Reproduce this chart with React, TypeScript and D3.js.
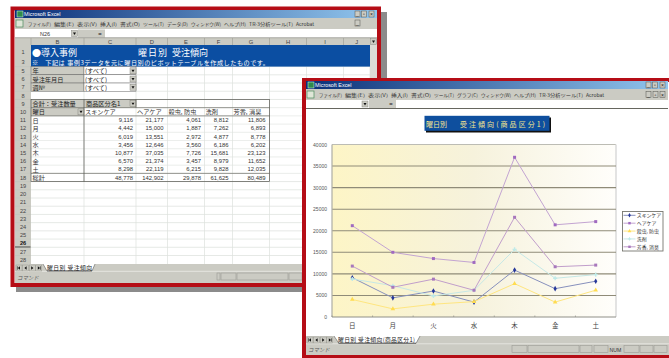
import React from "react";
import * as d3 from "d3";

// Pivot table contents
const weekdays = ["日", "月", "火", "水", "木", "金", "土"];
const seriesNames = ["スキンケア", "ヘアケア", "殺虫, 防虫", "洗剤", "芳香, 消臭"];
const skinCare = [9116, 4442, 6019, 3456, 10877, 6570, 8298];
const hairCare = [21177, 15000, 13551, 12646, 37035, 21374, 22119];
const insect = [4061, 1887, 2972, 3560, 7726, 3457, 6215];
const detergent = [8812, 7262, 4877, 6186, 15681, 8979, 9828];
const fragrance = [11806, 6893, 8778, 6202, 23123, 11652, 12035];
const totals = [48778, 142902, 29878, 61625, 80489];
const yTicks = [0, 5000, 10000, 15000, 20000, 25000, 30000, 35000, 40000];

const allSeries = [skinCare, hairCare, insect, detergent, fragrance];
const lineColors = ["#8790bd", "#c3a4d2", "#ffe680", "#c6e8e6", "#c19ecb"];
const markColors = ["#27389a", "#a06ac0", "#ffdc50", "#bfeae8", "#a878bc"];
const markShapes = [d3.symbolDiamond, d3.symbolSquare, d3.symbolTriangle, d3.symbolCross, d3.symbolSquare];

// Spreadsheet chrome labels
const leftMenu: [string, number][] = [["ファイル(F)", 28], ["編集(E)", 54], ["表示(V)", 77], ["挿入(I)", 100], ["書式(O)", 120], ["ツール(T)", 143], ["データ(D)", 167], ["ウィンドウ(W)", 191], ["ヘルプ(H)", 224], ["TR-3分析ツール(T)", 249], ["Acrobat", 296]];
const rightMenu: [string, number][] = [["ファイル(F)", 319], ["編集(E)", 345], ["表示(V)", 368], ["挿入(I)", 391], ["書式(O)", 411], ["ツール(T)", 434], ["グラフ(C)", 457], ["ウィンドウ(W)", 481], ["ヘルプ(H)", 514], ["TR-3分析ツール(T)", 539], ["Acrobat", 586]];
const colLetters = ["B", "C", "D", "E", "F", "G", "H", "I", "J"];
const colEdges = [31, 84, 136, 167.5, 204.5, 232.5, 269.5, 306.5, 343.5, 370];
const numRight = [133, 163.5, 201, 228.5, 265.5];
const rowNumbers = d3.range(5, 29);
const filters = ["年", "受注年月日", "週№"];
const statusLeft = [[217, 220], [221, 236], [237, 288], [289, 302]];
const statusRight = [[512, 527], [528, 579], [580, 592], [594, 608], [624, 639], [640, 653], [654, 667]];

const SANS = "'Noto Sans CJK JP','Liberation Sans',sans-serif";
const LATIN = "'Liberation Sans',sans-serif";
const CHROME = "#cbcbc3";
const rowY = d3.scaleLinear().domain([5, 28]).range([70.7, 259.6]);
const fmt = d3.format(",");

function Button({ x, y, w = 5, h = 6, label = "" }: any) {
  return (
    <g>
      <rect x={x} y={y} width={w} height={h} fill={CHROME} stroke="#55554f" strokeWidth={0.5} />
      <text x={x + w / 2} y={y + h - 1} fontSize={5} textAnchor="middle" fill="#111" fontFamily={LATIN}>{label}</text>
    </g>
  );
}

function Arrow({ x, y }: any) {
  return (
    <g>
      <rect x={x} y={y} width={6} height={6} fill={CHROME} stroke="#77776f" strokeWidth={0.4} />
      <path d={`M${x + 1.5},${y + 2} h3 l-1.5,2.4 z`} fill="#111" />
    </g>
  );
}

// First / previous / next / last sheet buttons beside the tabs
function TabNav({ x, y }: any) {
  const offsets = d3.range(4).map(i => x + i * 6.6);
  return (
    <g>
      {offsets.map((ox, i) => (
        <g key={i}>
          <rect x={ox} y={y} width={6} height={6} fill={CHROME} stroke="#8c8c84" strokeWidth={0.4} />
          <path d={i < 2 ? `M${ox + 4},${y + 1.3} v3.4 l-2.2,-1.7 z` : `M${ox + 2},${y + 1.3} v3.4 l2.2,-1.7 z`} fill="#111" />
          {i === 0 && <line x1={ox + 1.4} x2={ox + 1.4} y1={y + 1.3} y2={y + 4.7} stroke="#111" strokeWidth={0.6} />}
          {i === 3 && <line x1={ox + 4.6} x2={ox + 4.6} y1={y + 1.3} y2={y + 4.7} stroke="#111" strokeWidth={0.6} />}
        </g>
      ))}
    </g>
  );
}

function TitleBar({ x0, x1, y, id }: any) {
  return (
    <g>
      <rect x={x0} y={y} width={x1 - x0} height={8} fill={`url(#${id})`} />
      <rect x={x0 + 2} y={y + 1} width={6} height={6} fill="#2f8a4c" stroke="#dfe" strokeWidth={0.5} />
      <text x={x0 + 9} y={y + 6.2} fontSize={5.4} fill="#fff" fontFamily={LATIN}>Microsoft Excel</text>
      <Button x={x1 - 22} y={y + 1} label="_" />
      <Button x={x1 - 15.5} y={y + 1} label="▫" />
      <Button x={x1 - 8} y={y + 1} label="×" />
    </g>
  );
}

// Menu labels are set to end just before the next entry begins
function Menu({ items, y, iconX }: any) {
  return (
    <g fontSize={4.5} fill="#333">
      <rect x={iconX} y={y - 6} width={7} height={7} fill="#dfe6d8" stroke="#4c8a5c" strokeWidth={0.7} />
      {items.map(([t, x]: [string, number], i: number) => {
        const width = i + 1 < items.length ? items[i + 1][1] - x - 3 : 18;
        return <text key={t} x={x} y={y} textLength={width} lengthAdjust="spacingAndGlyphs">{t}</text>;
      })}
    </g>
  );
}

function LeftWindow() {
  const rowTop = (r: number) => rowY(r) - 4.1;
  return (
    <g fontFamily={SANS}>
      {/* drop shadow and frame */}
      <rect x={16} y={12} width={371} height={280} fill="#8b8b8b" />
      <rect x={12.5} y={8.5} width={366.5} height={276.5} fill="#fff" stroke="#b50d16" strokeWidth={4} />
      <TitleBar x0={15} x1={377} y={10} id="titleL" />
      <rect x={15} y={18} width={362} height={11} fill={CHROME} />
      <Menu items={leftMenu} y={26} iconX={16} />
      <Button x={355} y={20} label="_" />
      {/* formula bar */}
      <rect x={15} y={29.5} width={362} height={8} fill="#fff" />
      <rect x={78} y={29.5} width={27} height={8} fill={CHROME} />
      <text x={45} y={35.6} fontSize={5.5} fill="#333" textAnchor="middle" fontFamily={LATIN}>N26</text>
      <Arrow x={71.5} y={30.5} />
      <text x={100} y={35.6} fontSize={6} fill="#111" textAnchor="middle">=</text>
      {/* column headers */}
      <rect x={15} y={38} width={355} height={7} fill={CHROME} />
      <line x1={15} x2={377} y1={37.7} y2={37.7} stroke="#77776f" strokeWidth={0.6} />
      {colLetters.map((c, i) => (
        <g key={c}>
          <text x={(colEdges[i] + colEdges[i + 1]) / 2} y={43.8} fontSize={5.8} fill="#444" textAnchor="middle" fontFamily={LATIN}>{c}</text>
          <line x1={colEdges[i]} x2={colEdges[i]} y1={38} y2={45} stroke="#9a9a92" strokeWidth={0.6} />
        </g>
      ))}
      {/* row header strip and sheet gridlines */}
      <rect x={15} y={45} width={16} height={219} fill={CHROME} />
      {rowNumbers.map(r => (
        <line key={r} x1={15} x2={370} y1={rowTop(r)} y2={rowTop(r)} stroke={r < 10 || r > 18 ? "#dfe3df" : "#e6e8e6"} strokeWidth={0.8} />
      ))}
      {colEdges.slice(1).map(x => <line key={x} x1={x} x2={x} y1={66.6} y2={264} stroke="#dde1dd" strokeWidth={0.7} />)}
      {/* banner rows */}
      <rect x={31} y={45} width={339} height={21.6} fill="#0b4ea2" />
      <text x={32} y={55.5} fontSize={9} fill="#fff" textLength={45}>●導入事例</text>
      <text x={138} y={55.5} fontSize={9} fill="#fff" textLength={29}>曜日別</text>
      <text x={172} y={55.5} fontSize={9} fill="#fff" textLength={36}>受注傾向</text>
      <text x={32} y={64.6} fontSize={6.15} fill="#fff" textLength={237}>※　下記は 事例3データを元に曜日別のピボットテーブルを作成したものです。</text>
      {[["1", 52], ["3", 62]].map(([n, y]) => <text key={n} x={23} y={(y as number) + 2.2} fontSize={5.6} fill="#444" textAnchor="middle" fontFamily={LATIN}>{n}</text>)}
      {rowNumbers.map(r => (
        <g key={r}>
          <text x={23} y={rowY(r) + 2.2} fontSize={5.6} fill={r === 26 ? "#111" : "#444"} fontWeight={r === 26 ? 700 : 400} textAnchor="middle" fontFamily={LATIN}>{r}</text>
          <line x1={15} x2={31} y1={rowTop(r)} y2={rowTop(r)} stroke="#9e9e96" strokeWidth={0.4} />
        </g>
      ))}
      <line x1={15} x2={30.5} y1={rowY(26) + 3.8} y2={rowY(26) + 3.8} stroke="#333" strokeWidth={0.8} />
      {/* page filter fields */}
      {filters.map((f, i) => (
        <g key={f}>
          <rect x={31} y={rowTop(5 + i)} width={53} height={8.2} fill={CHROME} stroke="#555" strokeWidth={0.4} />
          <text x={32.5} y={rowY(5 + i) + 2.6} fontSize={6.2} fill="#222">{f}</text>
          <rect x={84} y={rowTop(5 + i)} width={52} height={8.2} fill="#fff" stroke="#555" strokeWidth={0.4} />
          <text x={85} y={rowY(5 + i) + 2.6} fontSize={6.2} fill="#222">(すべて)</text>
          <Arrow x={130} y={rowTop(5 + i) + 1.2} />
        </g>
      ))}
      {/* pivot table */}
      <rect x={31} y={rowTop(9)} width={53} height={8.2} fill={CHROME} />
      <rect x={84} y={rowTop(9)} width={52} height={8.2} fill={CHROME} />
      <rect x={31} y={rowTop(10)} width={53} height={8.2} fill={CHROME} />
      <text x={32.5} y={rowY(9) + 2.6} fontSize={6.2} fill="#222">合計：受注数量</text>
      <text x={86} y={rowY(9) + 2.6} fontSize={6.2} fill="#222">商品区分名1</text>
      <Arrow x={130} y={rowTop(9) + 1.2} />
      <text x={32.5} y={rowY(10) + 2.6} fontSize={6.2} fill="#222">曜日</text>
      <Arrow x={78} y={rowTop(10) + 1.2} />
      {seriesNames.map((s, i) => (
        <text key={s} x={colEdges[i + 1] + 1} y={rowY(10) + 2.6} fontSize={6.2} fill="#333">{s}</text>
      ))}
      {weekdays.map((d, w) => (
        <g key={d}>
          <text x={32.5} y={rowY(11 + w) + 2.6} fontSize={6.2} fill="#333">{d}</text>
          {allSeries.map((vals, i) => (
            <text key={i} x={numRight[i]} y={rowY(11 + w) + 2.2} fontSize={5.9} fill="#333" textAnchor="end" fontFamily={LATIN}>{fmt(vals[w])}</text>
          ))}
        </g>
      ))}
      <text x={32.5} y={rowY(18) + 2.6} fontSize={6.2} fill="#333">総計</text>
      {totals.map((v, i) => (
        <text key={i} x={numRight[i]} y={rowY(18) + 2.2} fontSize={5.9} fill="#333" textAnchor="end" fontFamily={LATIN}>{fmt(v)}</text>
      ))}
      <rect x={31} y={rowTop(9)} width={238.5} height={rowTop(19) - rowTop(9)} fill="none" stroke="#55554f" strokeWidth={0.7} />
      <line x1={84} x2={84} y1={rowTop(9)} y2={rowTop(19)} stroke="#55554f" strokeWidth={0.7} />
      <line x1={136} x2={136} y1={rowTop(9)} y2={rowTop(10)} stroke="#55554f" strokeWidth={0.7} />
      {[10, 11, 18].map(r => <line key={r} x1={31} x2={269.5} y1={rowTop(r)} y2={rowTop(r)} stroke="#55554f" strokeWidth={0.6} />)}
      {/* vertical scroll bar */}
      <rect x={370} y={38} width={7} height={226} fill="#dcdcd6" />
      <Arrow x={370.5} y={38.5} />
      {/* sheet tabs and status bar */}
      <rect x={15} y={264} width={362} height={19} fill={CHROME} />
      <line x1={15} x2={377} y1={271.3} y2={271.3} stroke="#f1f1ec" strokeWidth={0.7} />
      <TabNav x={16} y={265} />
      <path d="M43,264 L47,271 H92 L95,264" fill="#fff" stroke="#444" strokeWidth={0.5} />
      <text x={47} y={270} fontSize={5.8} fill="#222" textLength={45}>曜日別  受注傾向</text>
      <line x1={47} x2={92} y1={270.8} y2={270.8} stroke="#222" strokeWidth={0.5} />
      <text x={17} y={279.5} fontSize={5.4} fill="#555" fontStyle="italic">コマンド</text>
      {statusLeft.map(([a, b]) => <rect key={a} x={a} y={273} width={b - a} height={7} fill="none" stroke="#9c9c94" strokeWidth={0.6} />)}
    </g>
  );
}

function ChartWindow() {
  const plotL = 332, plotR = 616, plotT = 144.5, plotB = 317;
  const x = d3.scalePoint<string>().domain(weekdays).range([plotL, plotR]).padding(0.5);
  const y = d3.scaleLinear().domain([0, 40000]).range([plotB, plotT]);
  const step = x.step();
  const line = d3.line<number>().x((_, i) => x(weekdays[i]) as number).y(d => y(d));
  const sym = (i: number, size: number) => d3.symbol().type(markShapes[i]).size(size)() as string;
  const legendY = d3.scalePoint<string>().domain(seriesNames).range([215.3, 246.8]);

  return (
    <g fontFamily={SANS}>
      <rect x={304} y={80} width={367} height={276} fill="#fff" stroke="#b50d16" strokeWidth={4} />
      <TitleBar x0={306} x1={668} y={81} id="titleR" />
      <rect x={306} y={89} width={362} height={11} fill={CHROME} />
      <Menu items={rightMenu} y={97} iconX={307} />
      <Button x={646} y={91.5} label="_" />
      <Button x={653} y={91.5} label="▫" />
      <Button x={660} y={91.5} label="×" />
      <rect x={306} y={100} width={362} height={8} fill="#fff" />
      <rect x={369} y={100} width={27} height={8} fill={CHROME} />
      <Arrow x={362} y={101} />
      <text x={391} y={106.2} fontSize={6} fill="#111" textAnchor="middle">=</text>
      <line x1={306} x2={668} y1={108.5} y2={108.5} stroke="#66665f" strokeWidth={1} />

      {/* chart title */}
      <rect x={426} y={117.5} width={125} height={15} fill="#111" />
      <rect x={424.5} y={115.8} width={125} height={15} fill="#0e4f9e" />
      <text x={426} y={126.5} fontSize={7} fill="#f4e48f" textLength={21}>曜日別</text>
      <text x={460} y={126.5} fontSize={7} fill="#f4e48f" textLength={85}>受注傾向(商品区分1)</text>

      {/* plot background and gridlines */}
      <rect x={plotL} y={plotT} width={plotR - plotL} height={plotB - plotT} fill="url(#plotFill)" />
      <path d={`M${plotL},${plotT}H${plotR}`} stroke="#bcbcb4" strokeWidth={1} />
      <path d={`M${plotR},${plotT}V${plotB}`} stroke="#dcdcdc" strokeWidth={1.6} />
      {yTicks.filter(t => t > 0 && t < 40000).map(t => (
        <line key={t} x1={plotL} x2={plotR} y1={y(t)} y2={y(t)} stroke="#8f8b78" strokeWidth={1.1} />
      ))}
      <path d={`M${plotL},${plotT}V${plotB}`} stroke="#aeaea6" strokeWidth={1.2} fill="none" />
      <path d={`M${plotL},${plotB}H${plotR}`} stroke="#8f8f88" strokeWidth={1.2} fill="none" />
      {weekdays.map((_, i) => (
        <line key={i} x1={plotL + step * i} x2={plotL + step * i} y1={plotB} y2={plotB - 1.5} stroke="#8f8f88" strokeWidth={0.7} />
      ))}
      {yTicks.map(t => (
        <text key={t} x={327} y={y(t) + 2} fontSize={5} fill="#555" textAnchor="end" fontFamily={LATIN}>{t}</text>
      ))}
      {weekdays.map(d => (
        <text key={d} x={x(d)} y={328} fontSize={6.5} fill="#444" textAnchor="middle">{d}</text>
      ))}

      {/* one line with markers per product group */}
      {allSeries.map((vals, i) => (
        <g key={i}>
          <path d={line(vals) as string} fill="none" stroke={lineColors[i]} strokeWidth={1} />
          {vals.map((v, k) => (
            <path key={k} d={sym(i, 9)} transform={`translate(${x(weekdays[k])},${y(v)})`} fill={markColors[i]} />
          ))}
        </g>
      ))}

      {/* legend */}
      <rect x={622.5} y={211.5} width={40.5} height={39.5} fill="#fff" stroke="#77776f" strokeWidth={0.9} />
      {seriesNames.map((s, i) => (
        <g key={s}>
          <line x1={623.5} x2={635.5} y1={legendY(s)} y2={legendY(s)} stroke={lineColors[i]} strokeWidth={1} />
          <path d={sym(i, 6)} transform={`translate(629.5,${legendY(s)})`} fill={markColors[i]} />
          <text x={636.8} y={(legendY(s) as number) + 2} fontSize={4.9} fill="#333">{s}</text>
        </g>
      ))}

      {/* sheet tabs and status bar */}
      <rect x={306} y={336} width={363} height={19} fill={CHROME} />
      <line x1={306} x2={669} y1={343.8} y2={343.8} stroke="#f1f1ec" strokeWidth={0.7} />
      <TabNav x={307} y={337} />
      <path d="M334,336 L339,343.5 H416 L420,336" fill="#fff" stroke="#444" strokeWidth={0.5} />
      <text x={338} y={342.4} fontSize={5.8} fill="#222" textLength={77}>曜日別  受注傾向(商品区分1)</text>
      <line x1={338} x2={416} y1={343} y2={343} stroke="#222" strokeWidth={0.5} />
      <text x={308} y={351.6} fontSize={5.4} fill="#555" fontStyle="italic">コマンド</text>
      {statusRight.map(([a, b]) => <rect key={a} x={a} y={345.5} width={b - a} height={7} fill="none" stroke="#9c9c94" strokeWidth={0.6} />)}
      <text x={609.5} y={351.5} fontSize={5.2} fill="#333" fontFamily={LATIN}>NUM</text>
    </g>
  );
}

export default function App() {
  return (
    <svg width={669} height={358} viewBox="0 0 669 358" style={{ position: "absolute", left: 0, top: 0, background: "#fff" }}>
      <defs>
        {["titleL", "titleR"].map(id => (
          <linearGradient key={id} id={id} x1="0" x2="1" y1="0" y2="0">
            <stop offset="0" stopColor="#0a2f78" />
            <stop offset="1" stopColor="#92c6ee" />
          </linearGradient>
        ))}
        <linearGradient id="plotFill" x1="0" x2="1" y1="0" y2="0">
          <stop offset="0" stopColor="#fdf5c6" />
          <stop offset="0.5" stopColor="#f6f2dc" />
          <stop offset="1" stopColor="#fffefb" />
        </linearGradient>
      </defs>
      <LeftWindow />
      <ChartWindow />
    </svg>
  );
}
